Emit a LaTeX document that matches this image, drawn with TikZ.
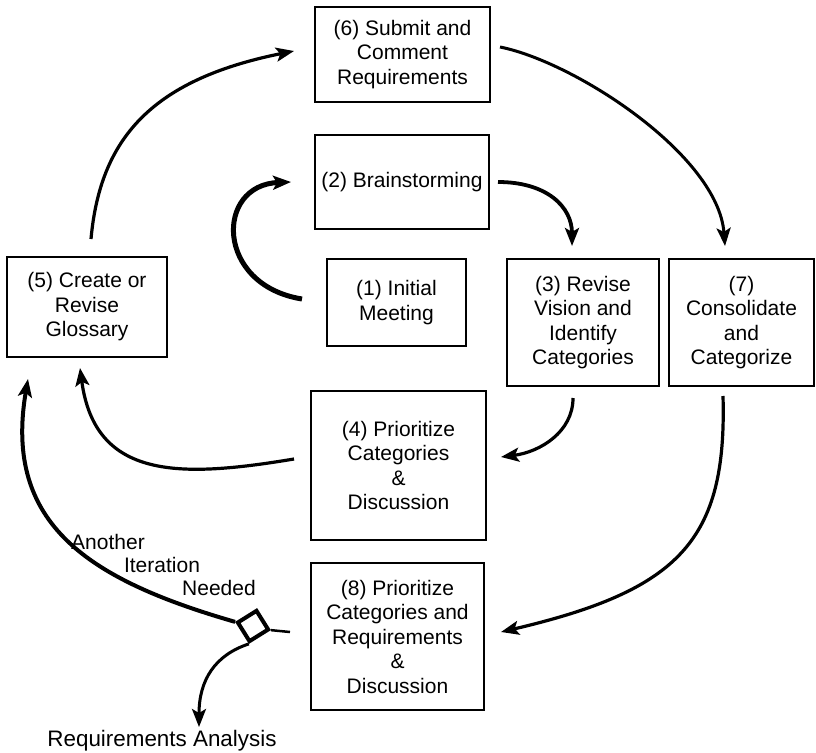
\documentclass[tikz,border=0pt]{standalone}
\usepackage{fontspec}
\setmainfont{Liberation Sans}
\usetikzlibrary{arrows.meta,calc}
\begin{document}
\begin{tikzpicture}[x=1pt,y=-1pt,
  box/.style={draw, line width=2pt, align=center, inner sep=0pt, font=\fontsize{21}{24.5}\selectfont},
  lbl/.style={inner sep=0pt, font=\fontsize{21}{24.5}\selectfont},
  arr/.style={line width=3.2pt, -{Stealth[length=18pt,width=14pt,inset=4pt]}},
]
\fill[white] (0,0) rectangle (816,752);
\useasboundingbox (0,0) rectangle (816,752);

\node[box, minimum width=175pt, minimum height=95pt] (b6) at (402.5,54.5) {(6) Submit and\\Comment\\Requirements};
\node[box, minimum width=174pt, minimum height=94pt] (b2) at (402,182) {(2) Brainstorming};
\node[box, minimum width=139pt, minimum height=87pt] (b1) at (396.5,302.5) {(1) Initial\\Meeting};
\node[box, minimum width=152pt, minimum height=127pt] (b3) at (583,322.5) {(3) Revise\\Vision and\\Identify\\Categories};
\node[box, minimum width=145pt, minimum height=127pt] (b7) at (741.5,322.5) {(7)\\Consolidate\\and\\Categorize};
\node[box, minimum width=160pt, minimum height=100pt] (b5) at (87,307) {(5) Create or\\Revise\\Glossary};
\node[box, minimum width=175pt, minimum height=149pt] (b4) at (398.5,465.5) {(4) Prioritize\\Categories\\\&\\Discussion};
\node[box, minimum width=173pt, minimum height=147pt] (b8) at (397.5,636.5) {(8) Prioritize\\Categories and\\Requirements\\\&\\Discussion};

\node[draw, line width=4pt, minimum size=22pt, rotate=32, inner sep=0pt] (d) at (253,626) {};

\node[inner sep=0pt, anchor=base, font=\fontsize{22.4}{26}\selectfont] (ra) at (162,746) {Requirements Analysis};
\node[lbl] (l1) at (108,542) {Another};
\node[lbl] (l2) at (162,565) {Iteration};
\node[lbl] (l3) at (219,588) {Needed};

% (5) -> (6)
\draw[arr] ([xshift=4pt,yshift=17pt]b5.north) .. controls (100,140) and (150,80) .. ([xshift=-20pt,yshift=3.5pt]b6.west);
% (1) -> (2)
\draw[arr, line width=5pt] ([xshift=-24pt,yshift=3.5pt]b1.west) .. controls (215,285) and (215,185) .. ([xshift=-23pt]b2.west);
% (2) -> (3)
\draw[arr, line width=3.8pt] ([xshift=8pt]b2.east) .. controls (547,182) and (572,207) .. ([xshift=-11pt,yshift=12pt]b3.north);
% (6) -> (7)
\draw[arr, line width=3pt] ([xshift=9pt,yshift=7.5pt]b6.east) .. controls (575,62) and (718,155) .. ([xshift=-16.5pt,yshift=12pt]b7.north);
% (3) -> (4)
\draw[arr] ([xshift=-10pt,yshift=-11pt]b3.south) .. controls (573,432) and (540,452) .. ([xshift=14pt,yshift=8.5pt]b4.east);
% (7) -> (8)
\draw[arr] ([xshift=-18.5pt,yshift=-9pt]b7.south) .. controls (727,540) and (680,590) .. ([xshift=16pt,yshift=4.5pt]b8.east);
% (4) -> (5)
\draw[arr] ([xshift=-16pt,yshift=6.5pt]b4.west) .. controls (180,478) and (95,480) .. ([xshift=-7pt,yshift=-10pt]b5.south);
% decision -> (5)
\draw[arr, line width=4pt] (d.north west) .. controls (90,580) and (3,525) .. ([xshift=-59pt,yshift=-21pt]b5.south);
% (8) -> decision
\draw[line width=2.5pt] ([xshift=-20pt,yshift=4.5pt]b8.west) -- (d.south east);
% decision -> Requirements Analysis
\draw[arr, line width=3pt] (d.south west) .. controls (215,655) and (199,680) .. ([xshift=37pt,yshift=19pt]ra.base);
\end{tikzpicture}
\end{document}
